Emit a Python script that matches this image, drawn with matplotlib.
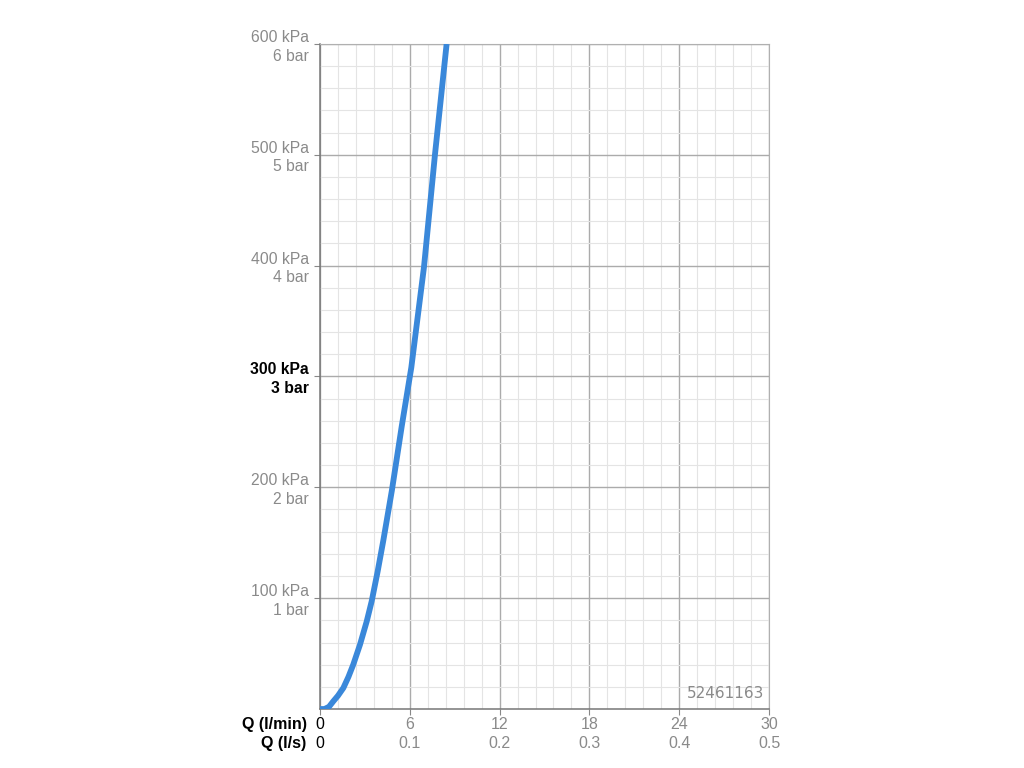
import matplotlib.pyplot as plt
from matplotlib.ticker import MultipleLocator

plt.rcParams['font.family'] = ['Liberation Sans', 'DejaVu Sans']

# flow rate (l/min) and pressure (kPa)
flow = [0, 0.3, 0.6, 0.89, 1.2, 1.56, 1.9, 2.22, 2.67, 3.12, 3.45, 3.85,
        4.23, 4.8, 5.46, 6.1, 6.95, 7.68, 8.46]
pressure = [0, 0, 2, 7, 12, 19, 29, 40, 58, 79, 97, 124,
            152, 197, 255, 308, 399, 500, 600]

x_ticks = [0, 6, 12, 18, 24, 30]
x_ticks_ls = ['0', '0.1', '0.2', '0.3', '0.4', '0.5']
y_ticks = [100, 200, 300, 400, 500, 600]
y_labels = ['100 kPa\n1 bar', '200 kPa\n2 bar', '300 kPa\n3 bar',
            '400 kPa\n4 bar', '500 kPa\n5 bar', '600 kPa\n6 bar']

fig = plt.figure(figsize=(10.24, 7.68), dpi=100)
ax = fig.add_axes([0.3125, 0.0768, 0.4385, 0.866])

ax.plot(flow, pressure, color='#3a88da', lw=4.2, solid_capstyle='butt',
        solid_joinstyle='round', zorder=3)

ax.set_xlim(0, 30)
ax.set_ylim(0, 600)
ax.xaxis.set_minor_locator(MultipleLocator(1.2))
ax.yaxis.set_minor_locator(MultipleLocator(20))
ax.set_xticks(x_ticks)
ax.set_yticks(y_ticks)
ax.set_xticklabels([])
ax.set_yticklabels([])
ax.grid(which='major', color='#ababab', lw=1.0)
ax.grid(which='minor', color='#e4e4e4', lw=0.8)
ax.set_axisbelow(True)
ax.tick_params(which='major', length=4, color='#888888', direction='out')
ax.tick_params(which='minor', length=0)

for s in ['top', 'right']:
    ax.spines[s].set_color('#b0b0b0')
for s in ['left', 'bottom']:
    ax.spines[s].set_color('#777777')
    ax.spines[s].set_linewidth(1.1)

# y labels (two lines, roughly centered on the grid line)
for v, lab in zip(y_ticks, y_labels):
    bold = v == 300
    ax.text(-0.025, v - 2.5, lab, transform=ax.get_yaxis_transform(), ha='right', va='center',
            fontsize=11.3, color='black' if bold else '#8a8a8a',
            fontweight='bold' if bold else 'normal', linespacing=1.3)

# x labels, two rows
for v, a, b in zip(x_ticks, x_ticks, x_ticks_ls):
    ax.text(v, -0.024, str(a), transform=ax.get_xaxis_transform(), ha='center', va='center',
            fontsize=11.5, color='black' if v == 0 else '#8a8a8a')
    ax.text(v, -0.052, b, transform=ax.get_xaxis_transform(), ha='center', va='center',
            fontsize=11.5, color='black' if v == 0 else '#8a8a8a')
ax.text(-0.03, -0.024, 'Q (l/min)', transform=ax.transAxes, ha='right', va='center',
        fontsize=11.5, fontweight='bold', color='black')
ax.text(-0.03, -0.052, 'Q (l/s)', transform=ax.transAxes, ha='right', va='center',
        fontsize=11.5, fontweight='bold', color='black')

ax.text(0.99, 0.012, '52461163', transform=ax.transAxes, ha='right', va='bottom',
        fontsize=11, color='#8a8a8a', family='DejaVu Sans')

fig.savefig('out.png', dpi=100, facecolor='white')
